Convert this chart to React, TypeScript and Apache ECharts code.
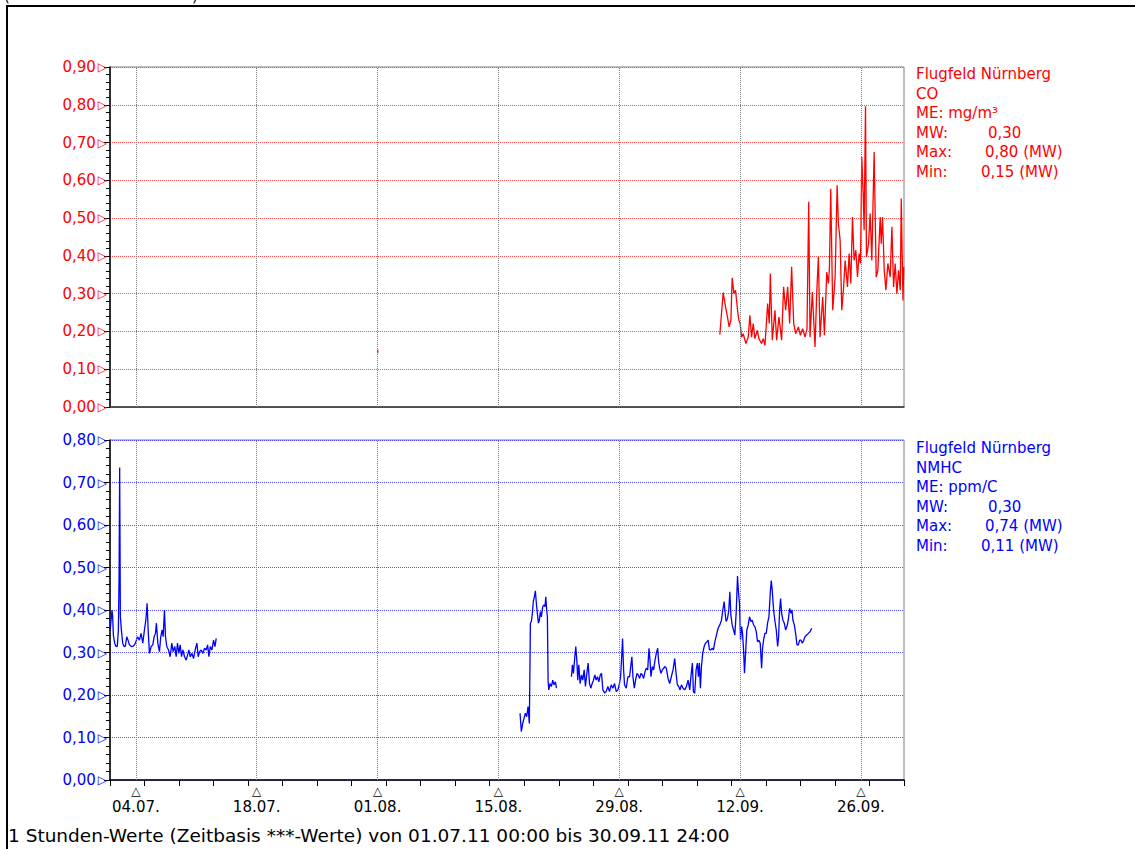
import React, { useEffect, useRef } from "react";
import * as echarts from "echarts";

// ---- data (x = days since 01.07.11 00:00, y = concentration) ----
const xLabelDays = [3, 17, 31, 45, 59, 73, 87];
const xLabelTexts = ["04.07.", "18.07.", "01.08.", "15.08.", "29.08.", "12.09.", "26.09."];

const coLegend = ["Flugfeld Nürnberg", "CO", "ME: mg/m³"];
const coStats = [["MW:", "0,30"], ["Max:", "0,80 (MW)"], ["Min:", "0,15 (MW)"]];
const nmhcLegend = ["Flugfeld Nürnberg", "NMHC", "ME: ppm/C"];
const nmhcStats = [["MW:", "0,30"], ["Max:", "0,74 (MW)"], ["Min:", "0,11 (MW)"]];
const footerText = "1 Stunden-Werte (Zeitbasis ***-Werte) von 01.07.11 00:00 bis 30.09.11 24:00";

const coBlip: [number, number][] = [[31.0, 0.142], [31.04, 0.152]];

const coData: [number, number][] = [
  [70.66, 0.192], [71.05, 0.303], [71.32, 0.265], [71.55, 0.238], [71.74, 0.212], [71.94, 0.229],
  [72.09, 0.342], [72.29, 0.3], [72.48, 0.309], [72.71, 0.256], [72.87, 0.229], [73.02, 0.221],
  [73.18, 0.185], [73.37, 0.194], [73.68, 0.168], [73.95, 0.185], [74.14, 0.243], [74.34, 0.185],
  [74.53, 0.221], [74.72, 0.181], [75.0, 0.203], [75.19, 0.181], [75.5, 0.168], [75.69, 0.181],
  [75.89, 0.163], [76.2, 0.274], [76.39, 0.221], [76.51, 0.353], [76.74, 0.177], [77.05, 0.256],
  [77.24, 0.177], [77.51, 0.238], [77.82, 0.177], [78.05, 0.318], [78.29, 0.256], [78.52, 0.318],
  [78.75, 0.221], [78.98, 0.371], [79.22, 0.221], [79.45, 0.194], [79.76, 0.212], [79.99, 0.19],
  [80.26, 0.207], [80.53, 0.185], [80.76, 0.207], [80.96, 0.543], [81.11, 0.185], [81.38, 0.304],
  [81.69, 0.159], [81.89, 0.304], [82.08, 0.397], [82.27, 0.185], [82.58, 0.291], [82.78, 0.19],
  [83.05, 0.357], [83.24, 0.327], [83.36, 0.366], [83.51, 0.578], [83.74, 0.256], [84.02, 0.344],
  [84.25, 0.587], [84.4, 0.485], [84.6, 0.441], [84.79, 0.256], [84.98, 0.309], [85.18, 0.388],
  [85.45, 0.318], [85.64, 0.406], [85.84, 0.327], [86.03, 0.503], [86.22, 0.388], [86.42, 0.415],
  [86.61, 0.344], [86.8, 0.406], [86.96, 0.38], [87.11, 0.662], [87.27, 0.565], [87.38, 0.468],
  [87.54, 0.796], [87.65, 0.397], [87.89, 0.432], [88.08, 0.512], [88.27, 0.388], [88.54, 0.675],
  [88.78, 0.344], [88.97, 0.362], [89.24, 0.503], [89.36, 0.432], [89.51, 0.503], [89.71, 0.362],
  [89.9, 0.309], [90.13, 0.38], [90.4, 0.344], [90.6, 0.477], [90.79, 0.318], [90.98, 0.38],
  [91.18, 0.3], [91.37, 0.362], [91.57, 0.309], [91.68, 0.552], [91.88, 0.282], [91.97, 0.371],
];

const nmhcSeg1: [number, number][] = [
  [0.02, 0.353], [0.23, 0.4], [0.31, 0.384], [0.39, 0.341], [0.54, 0.322], [0.7, 0.314], [0.85, 0.315],
  [0.97, 0.353], [1.05, 0.471], [1.12, 0.735], [1.2, 0.384], [1.32, 0.353], [1.47, 0.322], [1.63, 0.314],
  [1.78, 0.315], [1.94, 0.337], [2.09, 0.329], [2.25, 0.318], [2.48, 0.314], [2.71, 0.315], [2.95, 0.322],
  [3.18, 0.337], [3.41, 0.329], [3.6, 0.345], [3.8, 0.322], [3.99, 0.353], [4.15, 0.376], [4.3, 0.416],
  [4.42, 0.353], [4.57, 0.298], [4.77, 0.314], [4.96, 0.318], [5.11, 0.337], [5.27, 0.345], [5.38, 0.369],
  [5.54, 0.322], [5.73, 0.302], [5.88, 0.337], [6.04, 0.353], [6.16, 0.337], [6.31, 0.4], [6.43, 0.337],
  [6.58, 0.314], [6.78, 0.306], [6.97, 0.29], [7.16, 0.322], [7.32, 0.302], [7.51, 0.314], [7.67, 0.29],
  [7.82, 0.322], [7.98, 0.298], [8.13, 0.318], [8.29, 0.29], [8.44, 0.306], [8.64, 0.29], [8.83, 0.282],
  [8.99, 0.294], [9.14, 0.306], [9.3, 0.29], [9.49, 0.298], [9.68, 0.286], [9.87, 0.306], [10.07, 0.322],
  [10.22, 0.29], [10.38, 0.302], [10.57, 0.306], [10.76, 0.298], [10.96, 0.31], [11.15, 0.306],
  [11.31, 0.318], [11.46, 0.29], [11.62, 0.314], [11.81, 0.306], [12.0, 0.329], [12.16, 0.314], [12.31, 0.333],
];

const nmhcSeg2: [number, number][] = [
  [47.51, 0.157], [47.66, 0.114], [47.82, 0.133], [47.97, 0.145], [48.13, 0.157], [48.28, 0.149],
  [48.44, 0.173], [48.59, 0.133], [48.71, 0.369], [48.82, 0.373], [48.94, 0.392], [49.05, 0.42],
  [49.17, 0.431], [49.29, 0.445], [49.4, 0.416], [49.52, 0.392], [49.64, 0.369], [49.75, 0.376],
  [49.87, 0.396], [49.98, 0.384], [50.14, 0.408], [50.29, 0.412], [50.41, 0.408], [50.49, 0.431],
  [50.6, 0.4], [50.68, 0.384], [50.76, 0.235], [50.84, 0.212], [50.99, 0.227], [51.15, 0.22],
  [51.3, 0.235], [51.45, 0.224], [51.61, 0.231], [51.73, 0.216],
];

const nmhcSeg3: [number, number][] = [
  [53.47, 0.243], [53.58, 0.271], [53.7, 0.251], [53.86, 0.29], [53.97, 0.314], [54.09, 0.282],
  [54.2, 0.235], [54.32, 0.271], [54.47, 0.227], [54.63, 0.247], [54.78, 0.235], [54.94, 0.259],
  [55.09, 0.22], [55.25, 0.251], [55.4, 0.275], [55.56, 0.227], [55.71, 0.216], [55.87, 0.227],
  [56.02, 0.235], [56.18, 0.247], [56.33, 0.235], [56.49, 0.243], [56.64, 0.231], [56.8, 0.247],
  [56.95, 0.251], [57.11, 0.212], [57.3, 0.205], [57.49, 0.208], [57.69, 0.22], [57.88, 0.208],
  [58.07, 0.224], [58.27, 0.216], [58.46, 0.227], [58.66, 0.208], [58.85, 0.212], [59.04, 0.227],
  [59.16, 0.243], [59.27, 0.282], [59.39, 0.333], [59.51, 0.259], [59.62, 0.224], [59.82, 0.216],
  [60.01, 0.243], [60.2, 0.243], [60.36, 0.271], [60.47, 0.29], [60.59, 0.243], [60.75, 0.216],
  [60.9, 0.235], [61.06, 0.251], [61.21, 0.247], [61.37, 0.239], [61.52, 0.251], [61.68, 0.247],
  [61.83, 0.239], [61.99, 0.255], [62.14, 0.263], [62.3, 0.259], [62.45, 0.31], [62.57, 0.282],
  [62.68, 0.243], [62.84, 0.267], [62.99, 0.259], [63.15, 0.282], [63.3, 0.298], [63.46, 0.31],
  [63.57, 0.278], [63.69, 0.263], [63.84, 0.251], [64.0, 0.259], [64.15, 0.263], [64.31, 0.267],
  [64.46, 0.263], [64.66, 0.239], [64.85, 0.227], [65.04, 0.243], [65.24, 0.259], [65.43, 0.286],
  [65.59, 0.251], [65.74, 0.224], [65.9, 0.22], [66.05, 0.212], [66.21, 0.224], [66.4, 0.216],
  [66.59, 0.212], [66.79, 0.22], [66.98, 0.235], [67.17, 0.212], [67.37, 0.255], [67.48, 0.275],
  [67.6, 0.208], [67.75, 0.204], [67.91, 0.259], [68.06, 0.275], [68.18, 0.243], [68.29, 0.275],
  [68.41, 0.216], [68.53, 0.267], [68.68, 0.298], [68.84, 0.314], [68.99, 0.322], [69.15, 0.325],
  [69.3, 0.329], [69.46, 0.306], [69.61, 0.306], [69.77, 0.31], [69.92, 0.306], [70.08, 0.325],
  [70.27, 0.341], [70.46, 0.357], [70.66, 0.365], [70.85, 0.376], [71.01, 0.4], [71.16, 0.42],
  [71.28, 0.392], [71.39, 0.373], [71.55, 0.38], [71.7, 0.4], [71.82, 0.443], [71.94, 0.388],
  [72.09, 0.365], [72.25, 0.353], [72.4, 0.341], [72.55, 0.392], [72.71, 0.48], [72.83, 0.439],
  [72.94, 0.416], [73.06, 0.329], [73.18, 0.361], [73.29, 0.345], [73.41, 0.306], [73.52, 0.251],
  [73.64, 0.298], [73.79, 0.353], [73.95, 0.365], [74.1, 0.384], [74.26, 0.373], [74.41, 0.376],
  [74.57, 0.365], [74.72, 0.361], [74.88, 0.349], [75.03, 0.325], [75.19, 0.329], [75.34, 0.322],
  [75.5, 0.263], [75.61, 0.31], [75.73, 0.329], [75.88, 0.345], [76.04, 0.345], [76.19, 0.369],
  [76.35, 0.384], [76.5, 0.439], [76.62, 0.469], [76.73, 0.447], [76.89, 0.4], [77.05, 0.373],
  [77.2, 0.353], [77.36, 0.314], [77.47, 0.337], [77.59, 0.4], [77.7, 0.427], [77.82, 0.392],
  [77.97, 0.376], [78.13, 0.369], [78.28, 0.353], [78.44, 0.361], [78.59, 0.376], [78.75, 0.404],
  [78.9, 0.392], [79.02, 0.4], [79.13, 0.376], [79.29, 0.365], [79.44, 0.345], [79.6, 0.318],
  [79.76, 0.318], [79.91, 0.329], [80.07, 0.329], [80.22, 0.322], [80.38, 0.329], [80.53, 0.337],
  [80.72, 0.341], [80.92, 0.345], [81.11, 0.349], [81.3, 0.357],
];

const RED = "#ff0000";
const BLUE = "#0000ff";
const FONT = '"DejaVu Sans", Verdana, sans-serif';

function fmtY(v: number) {
  return v.toFixed(2).replace(".", ",");
}

function legendGraphics(lines: string[], stats: string[][], top: number, color: string) {
  const step = 19.5;
  const els: any[] = [];
  lines.forEach((t, i) => {
    els.push({
      type: "text",
      x: 916,
      y: top + i * step,
      style: { text: t, fill: color, font: `15px ${FONT}`, verticalAlign: "middle", textVerticalAlign: "middle" },
    });
  });
  const valueX = [988, 985, 981];
  stats.forEach((s, i) => {
    const y = top + (lines.length + i) * step;
    els.push({
      type: "text",
      x: 916,
      y,
      style: { text: s[0], fill: color, font: `15px ${FONT}`, verticalAlign: "middle", textVerticalAlign: "middle" },
    });
    els.push({
      type: "text",
      x: valueX[i],
      y,
      style: { text: s[1], fill: color, font: `15px ${FONT}`, verticalAlign: "middle", textVerticalAlign: "middle" },
    });
  });
  return els;
}

function vGridMark() {
  return {
    silent: true,
    symbol: ["none", "none"],
    label: { show: false },
    lineStyle: { type: "dotted", color: "#7a7a7a", width: 1 },
    data: xLabelDays.map((d) => ({ xAxis: d })),
  };
}

function lineSeries(data: [number, number][], idx: number, color: string, withMark = false) {
  const s: any = {
    type: "line",
    xAxisIndex: idx,
    yAxisIndex: idx,
    data,
    showSymbol: false,
    symbol: "none",
    lineStyle: { color, width: 1.3 },
    itemStyle: { color },
    silent: true,
  };
  if (withMark) s.markLine = vGridMark();
  return s;
}

function yAxisOpt(idx: number, max: number, color: string, gridColor: string) {
  return {
    type: "value",
    gridIndex: idx,
    min: 0,
    max,
    interval: 0.1,
    axisLine: { show: true, lineStyle: { color: "#000", width: 1.5 } },
    axisTick: { show: true, length: 6, lineStyle: { color: "#000" } },
    minorTick: { show: true, splitNumber: 5, length: 4, lineStyle: { color: "#000" } },
    splitLine: { show: true, lineStyle: { type: "dotted", color: gridColor, width: 1 } },
    axisLabel: {
      margin: 3,
      formatter: (v: number) => `{v|${fmtY(v)}}{t|▷}`,
      rich: {
        v: { color, fontSize: 15, fontFamily: FONT },
        t: { color, fontSize: 12, fontFamily: FONT, padding: [0, 0, 0, 2] },
      },
    },
  };
}

export default function App() {
  const ref = useRef<HTMLDivElement>(null);
  useEffect(() => {
    if (!ref.current) return;
    const chart = echarts.init(ref.current, undefined, { renderer: "svg" });
    const labelMap: Record<number, string> = {};
    xLabelDays.forEach((d, i) => (labelMap[d] = xLabelTexts[i]));
    const option: any = {
      animation: false,
      backgroundColor: "#fff",
      textStyle: { fontFamily: FONT },
      grid: [
        { left: 110, top: 67, width: 794, height: 340, show: true, borderColor: "#808080", borderWidth: 1, backgroundColor: "transparent" },
        { left: 110, top: 440, width: 794, height: 340, show: true, borderColor: "#808080", borderWidth: 1, backgroundColor: "transparent" },
      ],
      xAxis: [
        {
          type: "value",
          gridIndex: 0,
          min: 0,
          max: 92,
          interval: 4,
          axisLine: { show: true, lineStyle: { color: "#333", width: 1.5 } },
          axisTick: { show: false },
          axisLabel: { show: false },
          splitLine: { show: false },
        },
        {
          type: "value",
          gridIndex: 1,
          min: 0,
          max: 92,
          interval: 4,
          axisLine: { show: true, lineStyle: { color: "#000", width: 1.5 } },
          axisTick: { show: true, length: 6, lineStyle: { color: "#000" } },
          splitLine: { show: false },
          axisLabel: {
            show: true,
            customValues: xLabelDays,
            margin: 5,
            formatter: (v: number) => `{t|△}\n{v|${labelMap[Math.round(v)] ?? ""}}`,
            rich: {
              t: { fontSize: 12, lineHeight: 12, color: "#000", fontFamily: FONT },
              v: { fontSize: 15, lineHeight: 19, color: "#000", fontFamily: FONT },
            },
          },
        },
      ],
      yAxis: [yAxisOpt(0, 0.9, RED, "#ff5050"), yAxisOpt(1, 0.8, BLUE, "#5050ff")],
      series: [
        lineSeries(coData, 0, RED, true),
        lineSeries(coBlip, 0, RED),
        lineSeries(nmhcSeg1, 1, BLUE, true),
        lineSeries(nmhcSeg2, 1, BLUE),
        lineSeries(nmhcSeg3, 1, BLUE),
      ],
      graphic: [
        {
          type: "rect",
          shape: { x: 7, y: 6, width: 1200, height: 900 },
          style: { fill: "none", stroke: "#000", lineWidth: 2 },
          z: -10,
        },
        { type: "text", x: 4, y: 3, style: { text: "(", fill: "#000", font: `15px ${FONT}`, verticalAlign: "bottom", textVerticalAlign: "bottom" } },
        { type: "text", x: 192, y: 3, style: { text: ")", fill: "#000", font: `15px ${FONT}`, verticalAlign: "bottom", textVerticalAlign: "bottom" } },
        ...legendGraphics(coLegend, coStats, 74, RED),
        ...legendGraphics(nmhcLegend, nmhcStats, 448, BLUE),
        {
          type: "text",
          x: 8,
          y: 835,
          style: { text: footerText, fill: "#000", font: `18.5px ${FONT}`, verticalAlign: "middle", textVerticalAlign: "middle" },
        },
      ],
    };
    chart.setOption(option);
    return () => chart.dispose();
  }, []);
  return (
    <div
      ref={ref}
      style={{ position: "absolute", left: 0, top: 0, width: 1135, height: 849, background: "#fff" }}
    />
  );
}
